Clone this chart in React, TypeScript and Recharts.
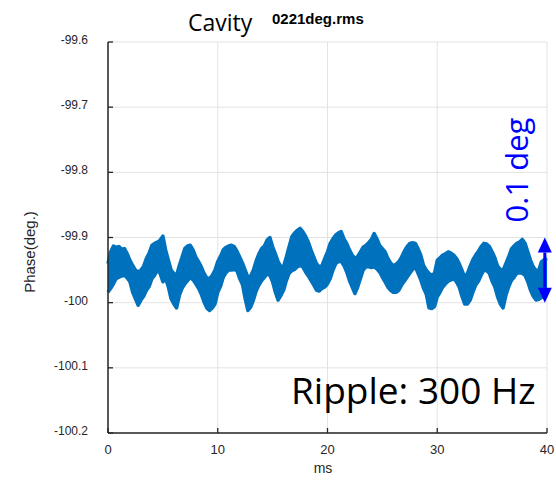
import {
  ComposedChart,
  Area,
  XAxis,
  YAxis,
  CartesianGrid,
  ReferenceLine,
} from "recharts";

// axis ticks
const xTicks = [0, 10, 20, 30, 40];
const yTicks = [-100.2, -100.1, -100, -99.9, -99.8, -99.7, -99.6];

// phase trace, one sample pair every 0.25 ms (upper / lower edge of the noisy trace)
const sampleStepMs = 0.25;
const phaseHigh = [
  -99.94, -99.922, -99.913, -99.915, -99.914, -99.918, -99.917, -99.925,
  -99.935, -99.943, -99.95, -99.953, -99.95, -99.944, -99.932, -99.924,
  -99.912, -99.909, -99.907, -99.904, -99.898, -99.919, -99.935, -99.95,
  -99.955, -99.958, -99.943, -99.93, -99.917, -99.913, -99.912, -99.919,
  -99.93, -99.937, -99.945, -99.955, -99.962, -99.963, -99.958, -99.95,
  -99.937, -99.929, -99.919, -99.915, -99.913, -99.912, -99.914, -99.921,
  -99.93, -99.939, -99.95, -99.961, -99.959, -99.95, -99.936, -99.925,
  -99.917, -99.913, -99.904, -99.9, -99.914, -99.925, -99.937, -99.945,
  -99.944, -99.93, -99.914, -99.899, -99.893, -99.889, -99.886, -99.891,
  -99.898, -99.907, -99.919, -99.93, -99.94, -99.945, -99.943, -99.932,
  -99.922, -99.909, -99.902, -99.896, -99.893, -99.891, -99.902, -99.909,
  -99.919, -99.927, -99.932, -99.929, -99.922, -99.915, -99.912, -99.908,
  -99.903, -99.894, -99.902, -99.912, -99.917, -99.922, -99.932, -99.939,
  -99.943, -99.941, -99.937, -99.93, -99.921, -99.914, -99.909, -99.908,
  -99.909, -99.917, -99.927, -99.943, -99.95, -99.955, -99.958, -99.955,
  -99.935, -99.931, -99.927, -99.925, -99.922, -99.924, -99.927, -99.932,
  -99.94, -99.95, -99.961, -99.955, -99.944, -99.934, -99.927, -99.921,
  -99.914, -99.909, -99.91, -99.914, -99.922, -99.931, -99.944, -99.949,
  -99.95, -99.94, -99.93, -99.918, -99.913, -99.909, -99.907, -99.903,
  -99.909, -99.922, -99.935, -99.945, -99.951, -99.95, -99.937, -99.934,
  -99.932,
];
const phaseLow = [
  -99.984, -99.978, -99.971, -99.963, -99.961, -99.959, -99.958, -99.962,
  -99.968, -99.984, -99.994, -100.004, -99.996, -99.99, -99.981, -99.975,
  -99.963, -99.958, -99.95, -99.955, -99.968, -99.963, -99.976, -99.994,
  -100.002, -100.008, -99.989, -99.978, -99.971, -99.966, -99.961, -99.965,
  -99.971, -99.978, -99.987, -99.999, -100.008, -100.012, -100.008, -100.002,
  -99.984, -99.975, -99.961, -99.954, -99.95, -99.95, -99.949, -99.951,
  -99.963, -99.972, -99.994, -100.012, -100.007, -99.996, -99.982, -99.973,
  -99.966, -99.961, -99.956, -99.958, -99.968, -99.984, -99.996, -99.989,
  -99.981, -99.966, -99.955, -99.951, -99.949, -99.945, -99.943, -99.945,
  -99.953, -99.959, -99.966, -99.973, -99.981, -99.982, -99.978, -99.976,
  -99.971, -99.963, -99.95, -99.94, -99.937, -99.937, -99.943, -99.953,
  -99.966, -99.976, -99.986, -99.976, -99.963, -99.95, -99.945, -99.945,
  -99.946, -99.945, -99.948, -99.953, -99.961, -99.968, -99.976, -99.981,
  -99.984, -99.984, -99.981, -99.973, -99.967, -99.961, -99.955, -99.949,
  -99.945, -99.955, -99.965, -99.978, -99.987, -100.008, -100.009, -100.006,
  -99.991, -99.984, -99.976, -99.971, -99.967, -99.965, -99.963, -99.968,
  -99.976, -99.99, -100.002, -100.002, -99.996, -99.984, -99.973, -99.967,
  -99.958, -99.95, -99.951, -99.955, -99.967, -99.976, -99.991, -100.002,
  -100.008, -99.989, -99.976, -99.966, -99.961, -99.955, -99.954, -99.955,
  -99.958, -99.968, -99.981, -99.99, -99.996, -99.995, -99.992, -99.989,
  -99.986,
];

// span marked by the blue arrow
const spanTop = -99.9;
const spanBottom = -100;

const rows = phaseHigh.map((hi, i) => ({
  t: i * sampleStepMs,
  band: [phaseLow[i], hi],
}));

const AXIS = "#262626";
const TRACE = "#0072BD";
const NOTE = "#0000ff";
const tickFont = "'Liberation Sans', Arial, sans-serif";

function BottomTick(p: any) {
  return (
    <g>
      <line x1={p.x} y1={p.y} x2={p.x} y2={p.y - 5} stroke={AXIS} strokeWidth={1.3} />
      <text x={p.x} y={p.y + 21} textAnchor="middle" fontSize={13} fill={AXIS} fontFamily={tickFont}>
        {p.payload.value}
      </text>
    </g>
  );
}

function LeftTick(p: any) {
  return (
    <g>
      <line x1={p.x} y1={p.y} x2={p.x + 5} y2={p.y} stroke={AXIS} strokeWidth={1.3} />
      <text x={p.x - 20} y={p.y + 2} textAnchor="end" fontSize={12} fill={AXIS} fontFamily={tickFont}>
        {p.payload.value}
      </text>
    </g>
  );
}

function TopTick(p: any) {
  return <line x1={p.x} y1={p.y} x2={p.x} y2={p.y + 5} stroke={AXIS} strokeWidth={1.3} />;
}

function RightTick(p: any) {
  return <line x1={p.x} y1={p.y} x2={p.x - 5} y2={p.y} stroke={AXIS} strokeWidth={1.3} />;
}

function DoubleArrow(p: any) {
  const x = p.x1;
  const top = Math.min(p.y1, p.y2);
  const bot = Math.max(p.y1, p.y2);
  const hw = 7;
  const hh = 15;
  return (
    <g>
      <line x1={x} y1={top + hh} x2={x} y2={bot - hh} stroke={NOTE} strokeWidth={3} />
      <polygon points={`${x},${top} ${x - hw},${top + hh} ${x + hw},${top + hh}`} fill={NOTE} />
      <polygon points={`${x},${bot} ${x - hw},${bot - hh} ${x + hw},${bot - hh}`} fill={NOTE} />
    </g>
  );
}

export default function App() {
  return (
    <div style={{ position: "absolute", left: 0, top: 0, background: "#fff" }}>
      <ComposedChart
        width={556}
        height={483}
        data={rows}
        margin={{ top: 42, right: 9, bottom: 0, left: 0 }}
      >
        <CartesianGrid stroke="#e3e3e3" strokeWidth={1} />
        <XAxis
          dataKey="t"
          type="number"
          domain={[0, 40]}
          ticks={xTicks}
          height={50}
          tickSize={0}
          tickMargin={0}
          tickLine={false}
          axisLine={{ stroke: AXIS, strokeWidth: 1.5 }}
          tick={BottomTick}
        />
        <XAxis
          xAxisId="top"
          orientation="top"
          dataKey="t"
          type="number"
          domain={[0, 40]}
          ticks={xTicks}
          height={0}
          tickSize={0}
          tickMargin={0}
          tickLine={false}
          axisLine={{ stroke: AXIS, strokeWidth: 1.5 }}
          tick={TopTick}
        />
        <YAxis
          type="number"
          domain={[-100.2, -99.6]}
          ticks={yTicks}
          width={108}
          tickSize={0}
          tickMargin={0}
          tickLine={false}
          axisLine={{ stroke: AXIS, strokeWidth: 1.5 }}
          tick={LeftTick}
        />
        <YAxis
          yAxisId="right"
          orientation="right"
          type="number"
          domain={[-100.2, -99.6]}
          ticks={yTicks}
          width={0}
          tickSize={0}
          tickMargin={0}
          tickLine={false}
          axisLine={{ stroke: AXIS, strokeWidth: 1.5 }}
          tick={RightTick}
        />
        <Area
          dataKey="band"
          type="linear"
          stroke={TRACE}
          strokeWidth={3.5}
          strokeLinejoin="round"
          fill={TRACE}
          fillOpacity={1}
          dot={false}
          activeDot={false}
          isAnimationActive={false}
        />
        <ReferenceLine
          segment={[
            { x: 39.8, y: spanTop },
            { x: 39.8, y: spanBottom },
          ]}
          ifOverflow="visible"
          shape={DoubleArrow}
        />
        <text x={188} y={31} fontSize={23} fontFamily="'Open Sans', sans-serif" fill="#000">
          Cavity
        </text>
        <text x={272} y={24} fontSize={15} fontWeight="bold" fontFamily={tickFont} fill="#000">
          0221deg.rms
        </text>
        <text
          x={35}
          y={252}
          transform="rotate(-90 35 252)"
          textAnchor="middle"
          fontSize={15}
          fontFamily={tickFont}
          fill={AXIS}
        >
          Phase(deg.)
        </text>
        <text x={323} y={473} textAnchor="middle" fontSize={14} fontFamily={tickFont} fill={AXIS}>
          ms
        </text>
        <text x={291} y={404} fontSize={37} fontFamily="'Open Sans', sans-serif" fill="#000">
          Ripple: 300 Hz
        </text>
        <text
          x={528}
          y={170}
          transform="rotate(-90 528 170)"
          textAnchor="middle"
          fontSize={31}
          fontFamily="'Open Sans', sans-serif"
          fill={NOTE}
        >
          0.1 deg
        </text>
      </ComposedChart>
    </div>
  );
}
